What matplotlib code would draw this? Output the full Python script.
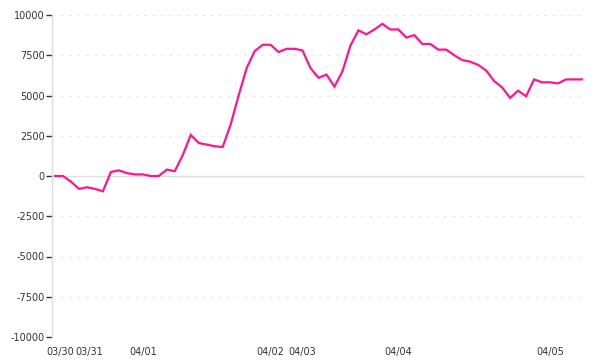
import matplotlib
matplotlib.use("Agg")
import matplotlib.pyplot as plt
import numpy as np

# values, one per sample
values = [0, 0, -350, -800, -700, -800, -950, 250, 350, 180,
          100, 100, 0, 0, 400, 300, 1300, 2550, 2050, 1950,
          1850, 1800, 3200, 5000, 6700, 7750, 8150, 8150, 7700, 7900,
          7900, 7800, 6700, 6100, 6300, 5550, 6500, 8100, 9050, 8800,
          9100, 9450, 9100, 9100, 8600, 8750, 8200, 8200, 7850, 7850,
          7500, 7200, 7100, 6900, 6550, 5900, 5500, 4850, 5300, 4950,
          6000, 5820, 5820, 5750, 6000, 6000, 6000]
day_labels = ["03/30", "03/31", "04/01", "04/02", "04/03", "04/04", "04/05"]
day_starts = [1, 4, 11, 27, 31, 43, 62]
yticks = [-10000, -7500, -5000, -2500, 0, 2500, 5000, 7500, 10000]

fig = plt.figure(figsize=(6, 3.6), dpi=100)
ax = fig.add_axes([52/600, 23/360, 533/600, 322/360])

x = np.arange(len(values))
ax.plot(x, values, color="#ff1493", lw=1.6, solid_joinstyle="miter", zorder=3)

for t in yticks:
    if t == 0:
        ax.axhline(0, color="#dddddd", lw=1, zorder=1)
    else:
        ax.axhline(t, color="#e8e8e8", lw=1, ls=(0, (2, 4)), zorder=1)

ax.set_ylim(-10000, 10000)
ax.set_xlim(-0.376, len(values) - 1 + 0.376)
ax.set_yticks(yticks)
ax.set_yticklabels([str(t) for t in yticks])
# first two days are only a few samples apart, spread their labels a bit
tick_pos = list(day_starts)
tick_pos[0] -= 0.3
tick_pos[1] += 0.3
ax.set_xticks(tick_pos)
ax.set_xticklabels(day_labels)

for s in ["top", "right", "bottom"]:
    ax.spines[s].set_visible(False)
ax.spines["left"].set_color("#dddddd")
ax.spines["left"].set_linewidth(1)

ax.tick_params(axis="y", length=4.3, width=1, color="#333333", pad=1,
               labelsize=7, labelcolor="#333333")
ax.tick_params(axis="x", length=0, pad=7, labelsize=7, labelcolor="#333333")

fig.savefig("out.png", dpi=100)
